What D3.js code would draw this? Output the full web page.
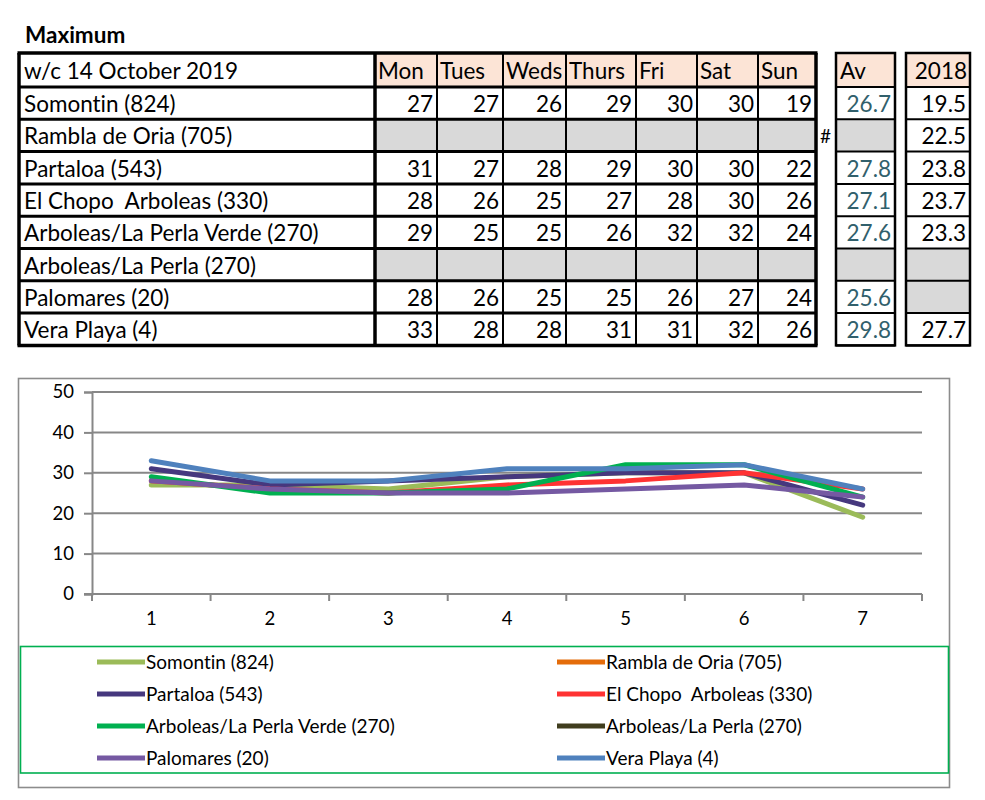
<!DOCTYPE html>
<html>
<head>
<meta charset="utf-8">
<script src="https://cdn.jsdelivr.net/npm/d3@7"></script>
<style>
  html, body { margin: 0; padding: 0; background: #fff; }
  svg text { font-family: Lato, "Noto Sans", sans-serif; white-space: pre; font-variant-ligatures: none; }
</style>
</head>
<body>
<svg id="chart" width="985" height="800"></svg>
<script>
// ---------- data ----------
const titleText = "Maximum";
const weekLabel = "w/c 14 October 2019";
const days = ["Mon", "Tues", "Weds", "Thurs", "Fri", "Sat", "Sun"];
const dayNumbers = [1, 2, 3, 4, 5, 6, 7];
const stations = [
  "Somontin (824)",
  "Rambla de Oria (705)",
  "Partaloa (543)",
  "El Chopo  Arboleas (330)",
  "Arboleas/La Perla Verde (270)",
  "Arboleas/La Perla (270)",
  "Palomares (20)",
  "Vera Playa (4)"
];
const somontin    = [27, 27, 26, 29, 30, 30, 19];
const ramblaOria  = null;
const partaloa    = [31, 27, 28, 29, 30, 30, 22];
const elChopo     = [28, 26, 25, 27, 28, 30, 26];
const perlaVerde  = [29, 25, 25, 26, 32, 32, 24];
const perla       = null;
const palomares   = [28, 26, 25, 25, 26, 27, 24];
const veraPlaya   = [33, 28, 28, 31, 31, 32, 26];
const dailyMax = [somontin, ramblaOria, partaloa, elChopo, perlaVerde, perla, palomares, veraPlaya];
const averages = [26.7, null, 27.8, 27.1, 27.6, null, 25.6, 29.8];
const year2018 = [19.5, 22.5, 23.8, 23.7, 23.3, null, null, 27.7];
const hashRow = 1;           // row showing the stray "#" mark
const yTicks = [0, 10, 20, 30, 40, 50];
const seriesColors = ["#9bbb59", "#e46c0a", "#46387e", "#ff3333", "#00b050", "#403d1e", "#7559a2", "#4f81bd"];

// ---------- layout ----------
const svg = d3.select("#chart");
const FONT_T = 22.5;
const peach = "#fce4d6", grey = "#d9d9d9";

svg.append("text").attr("x", 25).attr("y", 43)
  .attr("font-size", 22.5).attr("font-weight", "bold").text(titleText);

// Column edges of the main table
const colEdges = [19, 375, 437, 503, 566, 636, 697, 758, 816];
const rowTop = 53, headerH = 34, rowH = 32.3;
const rowY = i => rowTop + headerH + i * rowH;   // top of body row i
const tableBottom = rowY(stations.length);

const tbl = svg.append("g");
// header fills
days.forEach((d, j) => {
  tbl.append("rect").attr("x", colEdges[j + 1]).attr("y", rowTop)
    .attr("width", colEdges[j + 2] - colEdges[j + 1]).attr("height", headerH).attr("fill", peach);
  tbl.append("text").attr("x", colEdges[j + 1] + 3).attr("y", rowTop + headerH / 2 + 1)
    .attr("dy", "0.35em").attr("font-size", FONT_T).text(d);
});
tbl.append("text").attr("x", colEdges[0] + 5).attr("y", rowTop + headerH / 2 + 1)
  .attr("dy", "0.35em").attr("font-size", FONT_T).text(weekLabel);

stations.forEach((s, i) => {
  const y0 = rowY(i);
  tbl.append("text").attr("x", colEdges[0] + 5).attr("y", y0 + rowH / 2 + 1)
    .attr("dy", "0.35em").attr("font-size", FONT_T).text(s);
  const vals = dailyMax[i];
  days.forEach((d, j) => {
    const x0 = colEdges[j + 1], x1 = colEdges[j + 2];
    if (!vals) {
      tbl.append("rect").attr("x", x0).attr("y", y0).attr("width", x1 - x0)
        .attr("height", rowH).attr("fill", grey);
    } else {
      tbl.append("text").attr("x", x1 - 4).attr("y", y0 + rowH / 2 + 1).attr("dy", "0.35em")
        .attr("text-anchor", "end").attr("font-size", FONT_T).text(vals[j]);
    }
  });
  if (i === hashRow) {
    tbl.append("text").attr("x", 820).attr("y", y0 + rowH / 2 + 1).attr("dy", "0.35em")
      .attr("font-size", 19).text("#");
  }
});
// grid lines main table
const lineG = tbl.append("g").attr("stroke", "#000");
for (let i = 0; i <= stations.length; i++) {
  lineG.append("line").attr("x1", colEdges[0]).attr("x2", colEdges[colEdges.length - 1])
    .attr("y1", rowY(i)).attr("y2", rowY(i)).attr("stroke-width", 3);
}
colEdges.forEach((x, k) => {
  const thick = (k === 0 || k === 1 || k === colEdges.length - 1);
  lineG.append("line").attr("x1", x).attr("x2", x).attr("y1", rowTop).attr("y2", tableBottom)
    .attr("stroke-width", thick ? 3.5 : 2);
});
lineG.append("line").attr("x1", colEdges[0] - 1.5).attr("x2", colEdges[colEdges.length - 1] + 1.5)
  .attr("y1", rowTop).attr("y2", rowTop).attr("stroke-width", 3.5);
lineG.append("line").attr("x1", colEdges[0] - 1.5).attr("x2", colEdges[colEdges.length - 1] + 1.5)
  .attr("y1", tableBottom).attr("y2", tableBottom).attr("stroke-width", 3.5);

// side boxes: Av and 2018
function sideBox(x0, x1, header, values, color) {
  const g = svg.append("g");
  g.append("rect").attr("x", x0).attr("y", rowTop).attr("width", x1 - x0).attr("height", headerH).attr("fill", peach);
  g.append("text").attr("x", header === "Av" ? x0 + 4 : x1 - 3).attr("y", rowTop + headerH / 2 + 1).attr("dy", "0.35em")
    .attr("text-anchor", header === "Av" ? "start" : "end").attr("font-size", FONT_T).text(header);
  values.forEach((v, i) => {
    const y0 = rowY(i);
    if (v === null) {
      g.append("rect").attr("x", x0).attr("y", y0).attr("width", x1 - x0).attr("height", rowH).attr("fill", grey);
    } else {
      g.append("text").attr("x", x1 - 4).attr("y", y0 + rowH / 2 + 1).attr("dy", "0.35em")
        .attr("text-anchor", "end").attr("font-size", FONT_T).attr("fill", color).text(v.toFixed(1));
    }
  });
  for (let i = 0; i <= values.length; i++) {
    g.append("line").attr("x1", x0).attr("x2", x1).attr("y1", rowY(i)).attr("y2", rowY(i))
      .attr("stroke", "#000").attr("stroke-width", 2);
  }
  g.append("rect").attr("x", x0).attr("y", rowTop).attr("width", x1 - x0).attr("height", tableBottom - rowTop)
    .attr("fill", "none").attr("stroke", "#000").attr("stroke-width", 2.5);
}
sideBox(836, 895, "Av", averages, "#31606c");
sideBox(906, 970, "2018", year2018, "#000");

// ---------- chart ----------
svg.append("rect").attr("x", 18.5).attr("y", 378.5).attr("width", 931).attr("height", 409)
  .attr("fill", "#fff").attr("stroke", "#8c8c8c").attr("stroke-width", 1.6);

const plotL = 92, plotR = 922, plotT = 392, plotB = 594;
const x = d3.scaleBand().domain(dayNumbers).range([plotL, plotR]);
const y = d3.scaleLinear().domain([0, 50]).range([plotB, plotT]);
const axisGrey = "#878787";

// gridlines
svg.append("g").selectAll("line").data(yTicks.filter(t => t > 0)).join("line")
  .attr("x1", plotL).attr("x2", plotR).attr("y1", d => y(d)).attr("y2", d => y(d))
  .attr("stroke", axisGrey).attr("stroke-width", 2);

// y axis
const yAxis = svg.append("g").attr("transform", `translate(${plotL},0)`)
  .call(d3.axisLeft(y).tickValues(yTicks).tickSize(8).tickPadding(10));
yAxis.select(".domain").attr("stroke", axisGrey).attr("stroke-width", 2);
yAxis.selectAll(".tick line").attr("stroke", axisGrey).attr("stroke-width", 2);
yAxis.selectAll(".tick text").attr("font-size", 18.5).attr("font-family", "Lato, sans-serif").attr("fill", "#000");

// x axis
const xAxis = svg.append("g").attr("transform", `translate(0,${plotB})`)
  .call(d3.axisBottom(x).tickSize(0).tickPadding(18));
xAxis.select(".domain").remove();
xAxis.selectAll(".tick text").attr("font-size", 18.5).attr("font-family", "Lato, sans-serif").attr("fill", "#000");
svg.append("line").attr("x1", plotL - 8).attr("x2", plotR).attr("y1", plotB).attr("y2", plotB)
  .attr("stroke", axisGrey).attr("stroke-width", 2);
const boundaries = dayNumbers.map(d => x(d)).concat([x(dayNumbers[dayNumbers.length - 1]) + x.bandwidth()]);
svg.append("g").selectAll("line").data(boundaries).join("line")
  .attr("x1", d => d).attr("x2", d => d).attr("y1", plotB).attr("y2", plotB + 7)
  .attr("stroke", axisGrey).attr("stroke-width", 2);

// series lines
const line = d3.line().x((v, i) => x(dayNumbers[i]) + x.bandwidth() / 2).y(v => y(v));
const series = stations.map((s, i) => ({ name: s, values: dailyMax[i], color: seriesColors[i] }));
svg.append("g").selectAll("path").data(series.filter(s => s.values)).join("path")
  .attr("d", s => line(s.values)).attr("fill", "none").attr("stroke", s => s.color)
  .attr("stroke-width", 5).attr("stroke-linejoin", "round").attr("stroke-linecap", "round");

// legend
svg.append("rect").attr("x", 20.5).attr("y", 646.5).attr("width", 928).attr("height", 126.5)
  .attr("fill", "none").attr("stroke", "#00b050").attr("stroke-width", 1.6);
const legCols = [97, 557], legRows = [662, 694, 726, 758];
const leg = svg.append("g").selectAll("g").data(series).join("g")
  .attr("transform", (s, i) => `translate(${legCols[i % 2]},${legRows[Math.floor(i / 2)]})`);
leg.append("line").attr("x1", 0).attr("x2", 48).attr("stroke", s => s.color).attr("stroke-width", 5);
leg.append("text").attr("x", 49).attr("dy", "0.35em").attr("font-size", 19).text(s => s.name);
</script>
</body>
</html>
